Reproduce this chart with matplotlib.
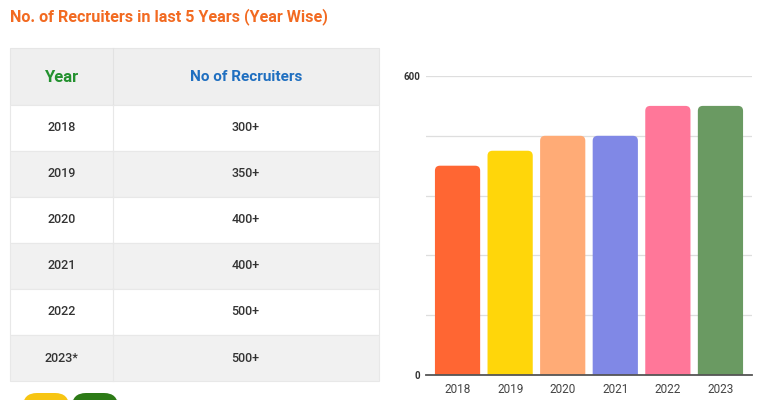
import matplotlib
matplotlib.use("Agg")
import matplotlib.pyplot as plt
from matplotlib.patches import Rectangle, FancyBboxPatch

# data
title = "No. of Recruiters in last 5 Years (Year Wise)"
table_years = ["2018", "2019", "2020", "2021", "2022", "2023*"]
table_recruiters = ["300+", "350+", "400+", "400+", "500+", "500+"]
bar_years = ["2018", "2019", "2020", "2021", "2022", "2023"]
bar_values = [420, 450, 480, 480, 540, 540]
bar_colors = ["#ff6633", "#ffd60a", "#ffab76", "#8088e6", "#ff7799", "#6a9a62"]

FONT = ["Roboto", "DejaVu Sans"]

fig = plt.figure(figsize=(7.73, 4.0), dpi=100)

# background axes in pixel coords (origin top-left)
bg = fig.add_axes([0, 0, 1, 1])
bg.set_xlim(0, 773)
bg.set_ylim(400, 0)
bg.axis("off")

bg.text(10, 17, title, color="#f26a21", fontsize=11.6, fontweight="bold",
        family=FONT, va="center", ha="left")

# table
tx0, tx1, tdiv = 9.5, 378.5, 113
head_top, head_bot, row_h = 48, 104.5, 46.1
bg.add_patch(Rectangle((tx0, head_top), tx1 - tx0, head_bot - head_top,
                       facecolor="#efefef", edgecolor="#e6e6e6", lw=0.8))
bg.text((tx0 + tdiv) / 2, (head_top + head_bot) / 2 + 1, "Year", color="#23912f",
        fontsize=12, fontweight="bold", family=FONT, ha="center", va="center")
bg.text((tdiv + tx1) / 2, (head_top + head_bot) / 2 + 1, "No of Recruiters", color="#1f6fc0",
        fontsize=11, fontweight="bold", family=FONT, ha="center", va="center")
bg.plot([tdiv, tdiv], [head_top, head_bot], color="#e2e2e2", lw=0.8)

for i, (yr, rc) in enumerate(zip(table_years, table_recruiters)):
    top = head_bot + i * row_h
    fc = "#ffffff" if i % 2 == 0 else "#f1f1f1"
    bg.add_patch(Rectangle((tx0, top), tx1 - tx0, row_h, facecolor=fc,
                           edgecolor="#e8e8e8", lw=0.8))
    bg.plot([tdiv, tdiv], [top, top + row_h], color="#e8e8e8", lw=0.8)
    bg.text((tx0 + tdiv) / 2, top + row_h / 2, yr, color="#333333", fontsize=9,
            fontweight="medium", family=FONT, ha="center", va="center")
    bg.text((tdiv + tx1) / 2, top + row_h / 2, rc, color="#333333", fontsize=9,
            fontweight="medium", family=FONT, ha="center", va="center")

# logo pieces peeking at the bottom
bg.add_patch(FancyBboxPatch((23, 393), 46, 20, boxstyle="round,pad=0,rounding_size=14",
                            facecolor="#f7c512", edgecolor="none"))
bg.add_patch(FancyBboxPatch((72, 393), 46, 20, boxstyle="round,pad=0,rounding_size=14",
                            facecolor="#2c7a16", edgecolor="none"))

# bar chart
ax = fig.add_axes([426 / 773, (400 - 375) / 400, (752 - 426) / 773, (375 - 76) / 400])
x = range(len(bar_years))
bars = ax.bar(x, bar_values, width=0.86, color=bar_colors)
ax.set_xlim(-0.6, 5.6)
ax.set_ylim(0, 600)

# rounded tops
xpp = 6.2 / 326
ypp = 600 / 299
for b in bars:
    bx, bw, bh = b.get_x(), b.get_width(), b.get_height()
    b.remove()
    ax.add_patch(FancyBboxPatch((bx, -30), bw, bh + 30,
                                boxstyle="round,pad=0,rounding_size=%f" % (5 * xpp),
                                mutation_aspect=ypp / xpp,
                                facecolor=b.get_facecolor(), edgecolor="none"))

ax.set_yticks([0, 120, 240, 360, 480, 600])
ax.set_yticklabels(["0", "", "", "", "", "600"])
ax.grid(axis="y", color="#dedede", lw=0.9)
ax.set_axisbelow(True)
for s in ["top", "right", "left"]:
    ax.spines[s].set_visible(False)
ax.spines["bottom"].set_color("#555555")
ax.spines["bottom"].set_linewidth(1.3)
ax.spines["bottom"].set_zorder(5)
ax.tick_params(axis="y", length=0, pad=4, labelsize=7, labelcolor="#333333")
ax.tick_params(axis="x", length=0, pad=6, labelsize=8.5, labelcolor="#444444")
ax.set_xticks(list(x))
ax.set_xticklabels(bar_years, family=FONT)
for lab in ax.get_yticklabels():
    lab.set_family(FONT)
    lab.set_fontweight("bold")

fig.savefig("out.png", dpi=100)
